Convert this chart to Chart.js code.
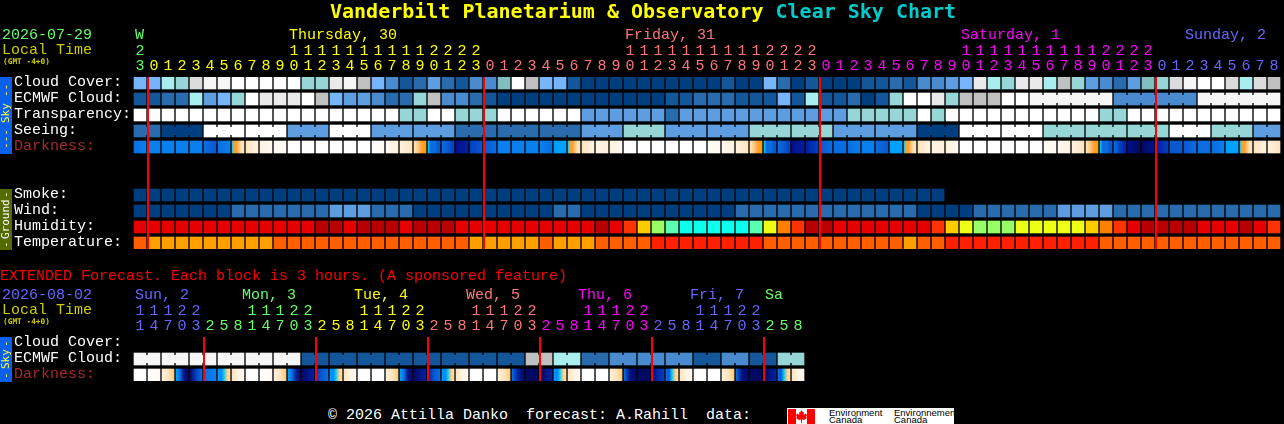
<!DOCTYPE html>
<html><head><meta charset="utf-8">
<script src="https://cdn.jsdelivr.net/npm/chart.js@4/dist/chart.umd.min.js"></script>
<style>
html,body{margin:0;padding:0;background:#000;width:1284px;height:424px;overflow:hidden}
canvas{position:absolute;left:0}
.t{position:absolute;white-space:pre;font:15px/16px "Liberation Mono",monospace;z-index:2}
.side{position:absolute;left:0;width:12px;writing-mode:vertical-rl;transform:rotate(180deg);display:flex;justify-content:space-between;align-items:center;box-sizing:border-box;font:11px/12px "DejaVu Sans Mono",monospace;z-index:2}
</style></head><body>
<div class="t" style="left:330px;top:0;font:bold 20px/23px 'DejaVu Sans Mono',monospace;color:#ffff00">Vanderbilt Planetarium &amp; Observatory <span style="color:#00cccc">Clear Sky Chart</span></div>
<div class="t" style="left:2px;top:28px;color:#66ff66">2026-07-29</div>
<div class="t" style="left:2px;top:43px;color:#cccc00">Local Time</div>
<div class="t" style="left:3px;top:57px;font:bold 7.8px/9px 'DejaVu Sans Mono',monospace;color:#cccc00">(GMT -4+0)</div>
<div class="t" style="left:0;top:269px;color:#ff0000">EXTENDED Forecast. Each block is 3 hours. (A sponsored feature)</div>
<div class="t" style="left:2px;top:288px;color:#6666ff">2026-08-02</div>
<div class="t" style="left:2px;top:303px;color:#cccc00">Local Time</div>
<div class="t" style="left:3px;top:317px;font:bold 7.8px/9px 'DejaVu Sans Mono',monospace;color:#cccc00">(GMT -4+0)</div>
<div class="side" style="top:77px;height:77px;background:#0a60e8;color:#ffff44;padding:5px 0 7px 0"><span>---</span><span>Sky</span><span>--</span></div>
<div class="side" style="top:189px;height:61px;background:#556b00;color:#ffffff;padding:2px 0"><span>-</span><span>Ground</span><span>-</span></div>
<div class="side" style="top:337px;height:45px;background:#0a60e8;color:#ffff44;padding:3px 0"><span>-</span><span>Sky</span><span>-</span></div>
<div class="t" style="left:328px;top:408px;color:#ffffff">© 2026 Attilla Danko  forecast: A.Rahill  data:</div>
<div style="position:absolute;left:787px;top:408px;width:167px;height:16px;background:#fff;overflow:hidden;z-index:2">
<div style="position:absolute;left:1px;top:1px;width:8px;height:15px;background:#f00"></div>
<div style="position:absolute;left:20px;top:1px;width:8px;height:15px;background:#f00"></div>
<svg style="position:absolute;left:9px;top:2px" width="11" height="13" viewBox="0 0 11 13"><polygon fill="#f00" points="5.5,0 7,2.5 8,2 7.6,5 9.5,3.5 11,5 10,7 11,8 8,10 6,9.5 6,13 5,13 5,9.5 3,10 0,8 1,7 0,5 1.5,3.5 3.4,5 3,2 4,2.500" /></svg>
<div style="position:absolute;left:42px;top:1px;font:9.5px/7px 'Liberation Sans',sans-serif;color:#000;white-space:pre">Environment
Canada</div>
<div style="position:absolute;left:107px;top:1px;font:9.5px/7px 'Liberation Sans',sans-serif;color:#000;white-space:pre">Environnement
Canada</div>
</div>
<canvas id="hourly" width="1284" height="260" style="top:0;width:1284px;height:260px"></canvas>
<canvas id="extended" width="1284" height="130" style="top:260px;width:1284px;height:130px"></canvas>
<script>
// ---- hourly block: tick labels and categories
const hourTens  = ['2','','','','','','','','','','','1','1','1','1','1','1','1','1','1','1','2','2','2','2','','','','','','','','','','','1','1','1','1','1','1','1','1','1','1','2','2','2','2','','','','','','','','','','','1','1','1','1','1','1','1','1','1','1','2','2','2','2','','','','','','','','',''];
const hourUnits = ['3','0','1','2','3','4','5','6','7','8','9','0','1','2','3','4','5','6','7','8','9','0','1','2','3','0','1','2','3','4','5','6','7','8','9','0','1','2','3','4','5','6','7','8','9','0','1','2','3','0','1','2','3','4','5','6','7','8','9','0','1','2','3','4','5','6','7','8','9','0','1','2','3','0','1','2','3','4','5','6','7','8'];
const hourDayNames = ['W','Thursday, 30','Friday, 31','Saturday, 1','Sunday, 2'];
const hourDayCols  = [0,11,35,59,75];
const hourColorFrom= [0,1,25,49,73];
const hourDayColors= ['#66ff66','#ffff00','#ff7777','#ff00ff','#6666ff'];
const hourMidnights= [1,25,49,73];
const hourRows = ['Cloud Cover:','ECMWF Cloud:','Transparency:','Seeing:','Darkness:','','','Smoke:','Wind:','Humidity:','Temperature:'];

// ---- hourly series (palette levels)
const cloudCover = [5,5,6,7,10,12,12,13,13,13,13,13,7,7,11,12,9,5,3,1,2,4,2,1,3,3,8,13,9,5,5,1,0,0,0,0,0,0,0,0,0,0,1,0,0,5,2,0,1,0,0,0,1,1,2,1,3,3,4,5,11,6,7,11,11,6,9,7,4,3,2,4,8,7,10,12,13,13,10,6,10,9];
const ecmwfCloud = [1,1,2,2,6,4,5,7,13,11,11,11,13,9,5,4,4,3,2,2,7,9,3,3,2,1,0,0,0,0,0,0,0,0,0,0,0,0,1,1,2,2,2,1,1,1,5,1,6,1,1,2,0,1,7,13,13,11,7,9,9,9,13,13,12,12,12,12,12,12,3,3,3,3,3,3,12,12,12,12,12,12];
const transparency=[13,13,13,13,13,13,13,13,13,13,13,13,13,13,13,13,13,13,13,7,7,13,13,7,7,7,13,13,13,13,13,13,4,4,4,4,4,4,2,4,4,4,4,4,4,4,4,4,4,4,4,7,7,7,7,7,13,7,13,13,13,13,13,13,13,13,13,13,13,7,7,13,13,13,13,13,13,13,13,13,13,13];
const seeing     = [2,2,0,0,0,13,13,13,13,13,13,4,4,4,13,13,13,4,4,4,4,4,4,2,2,2,2,2,2,2,2,2,4,4,4,7,7,7,4,4,4,4,4,4,7,7,7,7,7,7,4,4,4,4,4,4,0,0,0,13,13,13,13,13,13,7,7,7,7,7,7,7,7,7,13,13,13,7,7,7,4,4];
const darkness   = ['lm','m','m','m','m','ln','lm','keedcc','cb','ba','a','w','w','w','w','w','w','wa','ab','bc','cdeo','klllnn','lnp','rq','pn','nl','m','m','m','ml','s','keedcc','cb','b','ba','w','w','w','w','w','w','a','ab','bc','cdeo','klllnn','lnp','rq','qp','nl','l','lm','m','ln','s','keedcc','cb','b','ba','w','w','w','w','w','w','a','ab','bc','cdeo','klllnn','lpq','rt','tr','qp','n','nl','l','lm','s','keedcc','cb','bc'];
const smoke      = [0,0,0,0,0,0,0,0,0,0,0,0,0,0,0,0,0,0,0,0,0,0,0,0,0,0,0,0,0,0,0,0,0,0,0,0,0,0,0,0,0,0,0,0,0,0,0,0,0,0,0,0,0,0,0,0,0,0,null,null,null,null,null,null,null,null,null,null,null,null,null,null,null,null,null,null,null,null,null,null,null,null];
const wind       = [0,0,0,0,0,0,0,2,2,2,2,2,2,2,4,4,4,2,2,2,0,0,0,0,0,0,0,0,0,0,2,2,0,0,0,0,0,0,0,0,0,0,0,2,2,2,2,2,2,2,2,2,2,2,2,2,0,0,0,0,2,2,2,2,2,2,4,4,4,4,2,2,2,2,2,2,2,2,2,2,2,2];
const humidity   = [1,1,1,1,1,1,1,1,1,1,1,1,1,0,0,1,0,0,0,1,0,0,0,1,1,1,1,1,1,1,1,1,1,0,1,2,4,6,7,8,8,8,8,8,7,5,3,2,0,0,1,1,1,1,1,1,1,2,4,5,6,6,6,5,5,5,5,5,4,3,2,1,0,0,0,0,1,1,1,0,1,2];
const temperature= [1,0,0,0,0,0,0,0,0,0,1,1,1,1,1,1,1,1,1,1,1,1,1,1,0,0,0,0,0,1,0,0,0,1,1,1,1,2,2,2,2,2,2,2,2,1,1,1,1,1,1,1,1,1,1,0,1,1,2,2,2,2,2,2,2,2,2,2,2,1,1,1,1,1,1,1,1,1,1,1,1,1];
const seeingBlocks = [[0,1],[2,4],[5,7],[8,10],[11,13],[14,16],[17,19],[20,22],[23,25],[26,28],[29,31],[32,34],[35,37],[38,40],[41,43],[44,46],[47,49],[50,52],[53,55],[56,58],[59,61],[62,64],[65,67],[68,70],[71,73],[74,76],[77,79],[80,81]];
const ecmwfBlocks  = [[64,69],[70,75],[76,81]];

// ---- extended block
const extTens  = ['1','1','1','2','2','','','','1','1','1','2','2','','','','1','1','1','2','2','','','','1','1','1','2','2','','','','1','1','1','2','2','','','','1','1','1','2','2','','',''];
const extUnits = ['1','4','7','0','3','2','5','8','1','4','7','0','3','2','5','8','1','4','7','0','3','2','5','8','1','4','7','0','3','2','5','8','1','4','7','0','3','2','5','8','1','4','7','0','3','2','5','8'];
const extDayNames = ['Sun, 2','Mon, 3','Tue, 4','Wed, 5','Thu, 6','Fri, 7','Sa'];
const extDayCols  = [0,8,16,24,32,40,45];
const extColorFrom= [0,5,13,21,29,37,45];
const extDayColors= ['#6666ff','#66ff66','#ffff00','#ff7777','#ff00ff','#6666ff','#66ff66'];
const extMidnights= [5,13,21,29,37,45];
const extRows = ['Cloud Cover:','ECMWF Cloud:','Darkness:'];
const extEcmwf = [12,12,12,12,12,12,12,12,12,12,12,12,1,1,1,1,1,1,1,1,1,1,1,1,1,1,1,1,9,9,6,6,2,2,3,3,3,3,3,3,1,1,3,3,1,1,7,7];
const extDarkness = ['w','wa','bcd','slrt','tpl','lm','smkdc','cba','w','wa','bcd','slqt','trq','pnl','smkdc','cba','w','w','bcd','slrt','tq','qnl','smkdc','cba','w','w','bcd','lqt','t','tq','smkdc','cba','w','w','bcd','lrt','t','rp','lnkdc','cba','w','w','bcd','lrt','t','tq','lnkdc','cba'];
const extBlocks = [[0,1],[2,3],[4,5],[6,7],[8,9],[10,11],[12,13],[14,15],[16,17],[18,19],[20,21],[22,23],[24,25],[26,27],[28,29],[30,31],[32,33],[34,35],[36,37],[38,39],[40,41],[42,43],[44,45],[46,47]];

// ---- palettes
const skyPalette = ['#003f7f','#13569a','#2a6bae','#4a8bcf','#5e9de0','#76b4fb','#a8eeee','#96d6d6','#82bebe','#c0c0c0','#dcdcdc','#eaeaea','#f6f6f6','#ffffff'];
const humidityPalette = ['#b80000','#e60000','#ff3300','#ff8000','#ffcc00','#ecff14','#99ff66','#5cffb0','#0dffee'];
const temperaturePalette = ['#ffa000','#ff5f00','#ff2000'];
const darkPalette = {w:'#ffffff',a:'#fffaf3',b:'#fff2e0',c:'#ffe4bd',d:'#ffc880',e:'#ffa030',o:'#ff9a10',k:'#00d0ff',s:'#00a0ff',m:'#0a80ee',l:'#0a6ee0',n:'#0a58d0',p:'#0040c0',q:'#0020a0',r:'#00108a',t:'#000a60'};

Chart.defaults.font.family = '"Liberation Mono",monospace';
Chart.defaults.font.size = 15;
const CELL = 0.75, W = 12, STEP = 14;

function flat(row, values, palette){
  return {data: values.map(v => v===null ? null : [row,row+CELL]),
          backgroundColor: values.map(v => v===null ? 'transparent' : palette[v]),
          barThickness:W, grouped:false};
}
function shaded(row, values){
  return {data: values.map(() => [row,row+CELL]), barThickness:W, grouped:false,
    backgroundColor: ctx => {
      if (ctx.dataIndex===undefined) return '#000';
      const s = values[ctx.dataIndex];
      if (s.length===1) return darkPalette[s];
      const x0 = ctx.chart.scales.x ? ctx.chart.scales.x.getPixelForValue(ctx.dataIndex)-W/2 : NaN;
      if (!isFinite(x0)) return darkPalette[s[0]];
      const g = ctx.chart.ctx.createLinearGradient(x0,0,x0+W,0);
      [...s].forEach((c,i)=>g.addColorStop(i/(s.length-1),darkPalette[c]));
      return g;
    }};
}
// connectors between cells of one forecast block, day names and midnight lines, all placed by the scales
function overlay(cfg){
  return {id:'overlay',
    afterDatasetsDraw(chart){
      const {ctx,scales:{x,y},chartArea:a} = chart;
      ctx.save();
      cfg.links.forEach(({row,values,blocks,palette})=>{
        blocks.forEach(([from,to])=>{
          for(let i=from;i<to;i++){
            ctx.fillStyle = palette[values[i]];
            ctx.fillRect(x.getPixelForValue(i)+W/2, y.getPixelForValue(row)+2, STEP-W, 8);
          }
        });
      });
      ctx.fillStyle = '#ff0000';
      cfg.midnights.forEach(c=>ctx.fillRect(x.getPixelForValue(c)-STEP/2,a.top,2,a.bottom-a.top));
      ctx.font = '15px "Liberation Mono",monospace';
      ctx.textBaseline = 'middle'; ctx.textAlign='left';
      cfg.dayNames.forEach((n,i)=>{
        ctx.fillStyle = cfg.dayColors[i];
        ctx.fillText(n, x.getPixelForValue(cfg.dayCols[i])-cfg.nudge(i), 35);
      });
      ctx.restore();
    }};
}
function makeChart(id,cfg){
  return new Chart(document.getElementById(id),{
    type:'bar',
    data:{labels:cfg.tens.map((t,i)=>[t,cfg.units[i]]),datasets:cfg.datasets},
    plugins:[overlay(cfg)],
    options:{
      responsive:false,animation:false,devicePixelRatio:1,
      layout:{padding:{left:14,top:0,right:cfg.right,bottom:cfg.bottom}},
      plugins:{legend:{display:false},tooltip:{enabled:false},title:{display:false}},
      scales:{
        x:{type:'category',position:'top',offset:true,
           afterFit:s=>{s.height=77;},
           grid:{display:false,drawTicks:false},border:{display:false},
           ticks:{autoSkip:false,maxRotation:0,minRotation:0,padding:3,
             font:{size:15,lineHeight:1},
             color:c=>{let k=0;cfg.colorFrom.forEach((f,j)=>{if(c.index>=f)k=j;});return cfg.tickColors[k];}}},
        y:{type:'linear',reverse:true,min:0,max:cfg.rows.length-1+CELL,
           afterFit:s=>{s.width=119;},
           afterBuildTicks:s=>{s.ticks=cfg.rows.map((_,i)=>({value:i+0.31}));},
           grid:{display:false,drawTicks:false},border:{display:false},
           ticks:{autoSkip:false,crossAlign:'far',padding:0,font:{size:15},
             callback:(v,i)=>cfg.rows[i],
             color:c=>cfg.rows[c.index]==='Darkness:'?'#a52a2a':'#ffffff'}}
      }
    }
  });
}
makeChart('hourly',{
  tens:hourTens,units:hourUnits,rows:hourRows,right:3,bottom:11,
  dayNames:hourDayNames,dayCols:hourDayCols,dayColors:hourDayColors,nudge:()=>5,
  colorFrom:hourColorFrom,tickColors:hourDayColors,midnights:hourMidnights,
  links:[{row:1,values:ecmwfCloud,blocks:ecmwfBlocks,palette:skyPalette},
         {row:3,values:seeing,blocks:seeingBlocks,palette:skyPalette}],
  datasets:[flat(0,cloudCover,skyPalette),flat(1,ecmwfCloud,skyPalette),flat(2,transparency,skyPalette),
            flat(3,seeing,skyPalette),shaded(4,darkness),flat(7,smoke,skyPalette),flat(8,wind,skyPalette),
            flat(9,humidity,humidityPalette),flat(10,temperature,temperaturePalette)]
});
makeChart('extended',{
  tens:extTens,units:extUnits,rows:extRows,right:479,bottom:9,
  dayNames:extDayNames,dayCols:extDayCols,dayColors:extDayColors,
  nudge:i=>(i===0||i===extDayNames.length-1)?5:10,
  colorFrom:extColorFrom,tickColors:extDayColors,midnights:extMidnights,
  links:[{row:1,values:extEcmwf,blocks:extBlocks,palette:skyPalette}],
  datasets:[flat(1,extEcmwf,skyPalette),shaded(2,extDarkness)]
});
</script>
</body></html>
